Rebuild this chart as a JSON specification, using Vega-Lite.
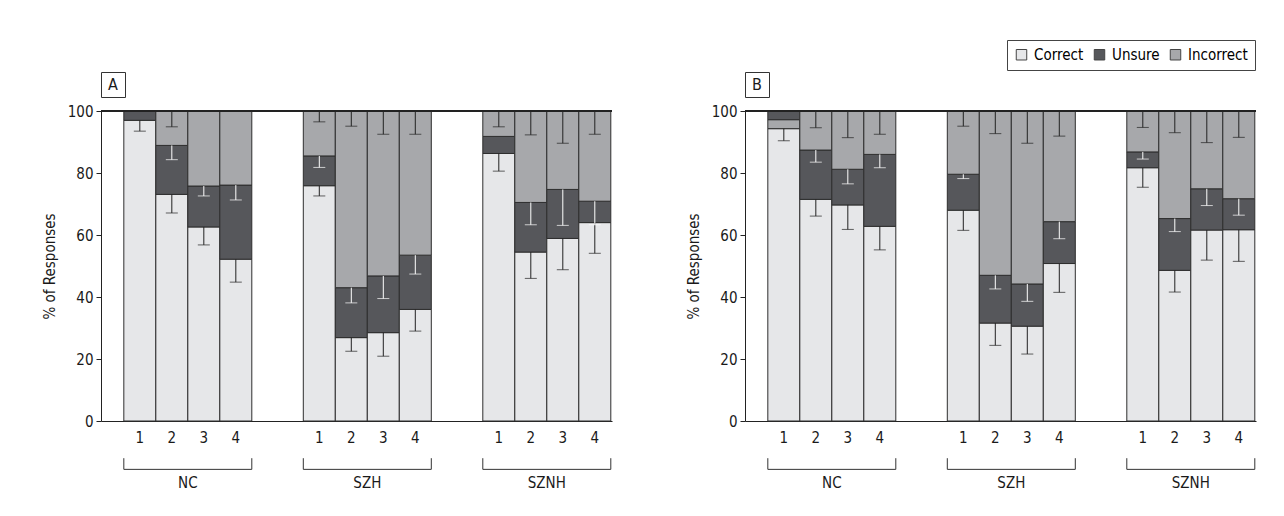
{
"$schema": "https://vega.github.io/schema/vega-lite/v6.json",
"autosize": "pad",
"padding": {"left": 42, "top": 39, "right": 0, "bottom": 0},
"background": "white",
"config": {
  "font": "DejaVu Sans Condensed, Liberation Sans, sans-serif",
  "view": {"stroke": null},
  "axis": {"labelFont": "DejaVu Sans Condensed, Liberation Sans, sans-serif", "titleFont": "DejaVu Sans Condensed, Liberation Sans, sans-serif", "labelColor": "#1a1a1a", "titleColor": "#1a1a1a", "domainColor": "#222", "tickColor": "#222"},
  "legend": {"labelFont": "DejaVu Sans Condensed, Liberation Sans, sans-serif"},
  "text": {"font": "DejaVu Sans Condensed, Liberation Sans, sans-serif", "color": "#1a1a1a"}
},
"datasets": {
  "resp": [
    {"panel":"A","group":"NC","sub":"1","cat":"Correct","k":1,"val":97.0,"lo":93.5},
    {"panel":"A","group":"NC","sub":"1","cat":"Unsure","k":2,"val":3.0,"lo":null},
    {"panel":"A","group":"NC","sub":"1","cat":"Incorrect","k":3,"val":0.0,"lo":null},
    {"panel":"A","group":"NC","sub":"2","cat":"Correct","k":1,"val":73.1,"lo":67.1},
    {"panel":"A","group":"NC","sub":"2","cat":"Unsure","k":2,"val":15.8,"lo":84.3},
    {"panel":"A","group":"NC","sub":"2","cat":"Incorrect","k":3,"val":11.1,"lo":94.9},
    {"panel":"A","group":"NC","sub":"3","cat":"Correct","k":1,"val":62.6,"lo":56.8},
    {"panel":"A","group":"NC","sub":"3","cat":"Unsure","k":2,"val":13.2,"lo":72.6},
    {"panel":"A","group":"NC","sub":"3","cat":"Incorrect","k":3,"val":24.2,"lo":null},
    {"panel":"A","group":"NC","sub":"4","cat":"Correct","k":1,"val":52.2,"lo":44.8},
    {"panel":"A","group":"NC","sub":"4","cat":"Unsure","k":2,"val":23.9,"lo":71.3},
    {"panel":"A","group":"NC","sub":"4","cat":"Incorrect","k":3,"val":23.9,"lo":null},
    {"panel":"A","group":"SZH","sub":"1","cat":"Correct","k":1,"val":75.9,"lo":72.6},
    {"panel":"A","group":"SZH","sub":"1","cat":"Unsure","k":2,"val":9.6,"lo":81.8},
    {"panel":"A","group":"SZH","sub":"1","cat":"Incorrect","k":3,"val":14.5,"lo":96.5},
    {"panel":"A","group":"SZH","sub":"2","cat":"Correct","k":1,"val":26.9,"lo":22.5},
    {"panel":"A","group":"SZH","sub":"2","cat":"Unsure","k":2,"val":16.1,"lo":38.1},
    {"panel":"A","group":"SZH","sub":"2","cat":"Incorrect","k":3,"val":57.0,"lo":95.1},
    {"panel":"A","group":"SZH","sub":"3","cat":"Correct","k":1,"val":28.5,"lo":20.9},
    {"panel":"A","group":"SZH","sub":"3","cat":"Unsure","k":2,"val":18.3,"lo":39.5},
    {"panel":"A","group":"SZH","sub":"3","cat":"Incorrect","k":3,"val":53.2,"lo":92.5},
    {"panel":"A","group":"SZH","sub":"4","cat":"Correct","k":1,"val":36.0,"lo":29.0},
    {"panel":"A","group":"SZH","sub":"4","cat":"Unsure","k":2,"val":17.5,"lo":47.4},
    {"panel":"A","group":"SZH","sub":"4","cat":"Incorrect","k":3,"val":46.5,"lo":92.5},
    {"panel":"A","group":"SZNH","sub":"1","cat":"Correct","k":1,"val":86.3,"lo":80.6},
    {"panel":"A","group":"SZNH","sub":"1","cat":"Unsure","k":2,"val":5.5,"lo":null},
    {"panel":"A","group":"SZNH","sub":"1","cat":"Incorrect","k":3,"val":8.2,"lo":94.9},
    {"panel":"A","group":"SZNH","sub":"2","cat":"Correct","k":1,"val":54.5,"lo":46.0},
    {"panel":"A","group":"SZNH","sub":"2","cat":"Unsure","k":2,"val":16.0,"lo":63.3},
    {"panel":"A","group":"SZNH","sub":"2","cat":"Incorrect","k":3,"val":29.5,"lo":92.3},
    {"panel":"A","group":"SZNH","sub":"3","cat":"Correct","k":1,"val":58.9,"lo":48.8},
    {"panel":"A","group":"SZNH","sub":"3","cat":"Unsure","k":2,"val":15.8,"lo":63.1},
    {"panel":"A","group":"SZNH","sub":"3","cat":"Incorrect","k":3,"val":25.3,"lo":89.6},
    {"panel":"A","group":"SZNH","sub":"4","cat":"Correct","k":1,"val":64.0,"lo":54.1},
    {"panel":"A","group":"SZNH","sub":"4","cat":"Unsure","k":2,"val":6.9,"lo":63.3},
    {"panel":"A","group":"SZNH","sub":"4","cat":"Incorrect","k":3,"val":29.1,"lo":92.5},
    {"panel":"B","group":"NC","sub":"1","cat":"Correct","k":1,"val":94.3,"lo":90.4},
    {"panel":"B","group":"NC","sub":"1","cat":"Incorrect","k":2,"val":2.9,"lo":null},
    {"panel":"B","group":"NC","sub":"1","cat":"Unsure","k":3,"val":2.8,"lo":null},
    {"panel":"B","group":"NC","sub":"2","cat":"Correct","k":1,"val":71.5,"lo":66.1},
    {"panel":"B","group":"NC","sub":"2","cat":"Unsure","k":2,"val":15.9,"lo":83.5},
    {"panel":"B","group":"NC","sub":"2","cat":"Incorrect","k":3,"val":12.6,"lo":94.6},
    {"panel":"B","group":"NC","sub":"3","cat":"Correct","k":1,"val":69.7,"lo":61.8},
    {"panel":"B","group":"NC","sub":"3","cat":"Unsure","k":2,"val":11.5,"lo":76.5},
    {"panel":"B","group":"NC","sub":"3","cat":"Incorrect","k":3,"val":18.8,"lo":91.4},
    {"panel":"B","group":"NC","sub":"4","cat":"Correct","k":1,"val":62.8,"lo":55.2},
    {"panel":"B","group":"NC","sub":"4","cat":"Unsure","k":2,"val":23.2,"lo":81.7},
    {"panel":"B","group":"NC","sub":"4","cat":"Incorrect","k":3,"val":14.0,"lo":92.5},
    {"panel":"B","group":"SZH","sub":"1","cat":"Correct","k":1,"val":68.0,"lo":61.5},
    {"panel":"B","group":"SZH","sub":"1","cat":"Unsure","k":2,"val":11.6,"lo":78.2},
    {"panel":"B","group":"SZH","sub":"1","cat":"Incorrect","k":3,"val":20.4,"lo":95.1},
    {"panel":"B","group":"SZH","sub":"2","cat":"Correct","k":1,"val":31.6,"lo":24.4},
    {"panel":"B","group":"SZH","sub":"2","cat":"Unsure","k":2,"val":15.4,"lo":42.6},
    {"panel":"B","group":"SZH","sub":"2","cat":"Incorrect","k":3,"val":53.0,"lo":92.7},
    {"panel":"B","group":"SZH","sub":"3","cat":"Correct","k":1,"val":30.6,"lo":21.6},
    {"panel":"B","group":"SZH","sub":"3","cat":"Unsure","k":2,"val":13.6,"lo":38.6},
    {"panel":"B","group":"SZH","sub":"3","cat":"Incorrect","k":3,"val":55.8,"lo":89.6},
    {"panel":"B","group":"SZH","sub":"4","cat":"Correct","k":1,"val":50.8,"lo":41.5},
    {"panel":"B","group":"SZH","sub":"4","cat":"Unsure","k":2,"val":13.5,"lo":58.8},
    {"panel":"B","group":"SZH","sub":"4","cat":"Incorrect","k":3,"val":35.7,"lo":91.9},
    {"panel":"B","group":"SZNH","sub":"1","cat":"Correct","k":1,"val":81.7,"lo":75.4},
    {"panel":"B","group":"SZNH","sub":"1","cat":"Unsure","k":2,"val":5.1,"lo":84.5},
    {"panel":"B","group":"SZNH","sub":"1","cat":"Incorrect","k":3,"val":13.2,"lo":94.7},
    {"panel":"B","group":"SZNH","sub":"2","cat":"Correct","k":1,"val":48.6,"lo":41.6},
    {"panel":"B","group":"SZNH","sub":"2","cat":"Unsure","k":2,"val":16.7,"lo":61.1},
    {"panel":"B","group":"SZNH","sub":"2","cat":"Incorrect","k":3,"val":34.7,"lo":93.0},
    {"panel":"B","group":"SZNH","sub":"3","cat":"Correct","k":1,"val":61.6,"lo":51.9},
    {"panel":"B","group":"SZNH","sub":"3","cat":"Unsure","k":2,"val":13.3,"lo":69.5},
    {"panel":"B","group":"SZNH","sub":"3","cat":"Incorrect","k":3,"val":25.1,"lo":89.8},
    {"panel":"B","group":"SZNH","sub":"4","cat":"Correct","k":1,"val":61.7,"lo":51.5},
    {"panel":"B","group":"SZNH","sub":"4","cat":"Unsure","k":2,"val":10.0,"lo":66.4},
    {"panel":"B","group":"SZNH","sub":"4","cat":"Incorrect","k":3,"val":28.3,"lo":91.5}
  ]
},
"spacing": 73,
"bounds": "full",
"hconcat": [
  {"vconcat": [
    {"width": 24, "height": 25, "view": {"stroke": "#333", "strokeWidth": 1},
     "data": {"values": [{"t": "A"}]},
     "mark": {"type": "text", "fontSize": 16},
     "encoding": {"text": {"field": "t", "type": "nominal"}}},
    {"width": 511, "height": 310,
     "data": {"name": "resp"},
     "transform": [{"filter": "datum.panel === 'A'"}, {"stack": "val", "groupby": ["group", "sub"], "sort": [{"field": "k", "order": "ascending"}], "as": ["v0", "v1"]}],
     "layer": [
      {"mark": {"type": "bar", "stroke": "#2e2e2e", "strokeWidth": 1},
       "encoding": {
        "x": {"field": "group", "type": "nominal", "sort": ["NC", "SZH", "SZNH"], "scale": {"paddingInner": 0.2869, "paddingOuter": 0.0669, "align": 0.95}, "axis": {"title": null, "ticks": false, "tickSize": 0, "labelPadding": 54, "labelAngle": 0, "labelFontSize": 15}},
        "xOffset": {"field": "sub", "type": "nominal", "scale": {"paddingInner": 0, "paddingOuter": 0}},
        "y": {"field": "v1", "type": "quantitative", "scale": {"domain": [0, 100], "nice": false}, "axis": {"title": "% of Responses", "values": [0, 20, 40, 60, 80, 100], "grid": false, "tickSize": 5, "labelPadding": 3, "titlePadding": 10, "labelFontSize": 15, "titleFontSize": 15, "titleFontWeight": "normal"}},
        "y2": {"field": "v0"},
        "color": {"field": "cat", "type": "nominal", "scale": {"domain": ["Correct", "Unsure", "Incorrect"], "range": ["#e6e7e9", "#56575b", "#a7a8ab"]},
          "legend": {"orient": "none", "legendX": 906, "legendY": -32, "direction": "horizontal", "title": null, "symbolType": "square", "symbolSize": 110, "symbolStrokeColor": "#444", "symbolStrokeWidth": 1, "symbolOpacity": 1, "labelFontSize": 15, "strokeColor": "#444", "padding": 7, "columnPadding": 8, "labelOffset": 5}}
       }},
      {"mark": {"type": "rule", "strokeWidth": 1},
       "transform": [{"filter": "isValid(datum.lo)"}],
       "encoding": {
        "x": {"field": "group", "type": "nominal", "sort": ["NC", "SZH", "SZNH"]},
        "xOffset": {"field": "sub", "type": "nominal"},
        "y": {"field": "v1", "type": "quantitative"},
        "y2": {"field": "lo"},
        "color": {"condition": {"test": "datum.cat === 'Unsure'", "value": "#ffffff"}, "value": "#222222"}
       }},
      {"mark": {"type": "tick", "thickness": 1, "size": 12},
       "transform": [{"filter": "isValid(datum.lo)"}],
       "encoding": {
        "x": {"field": "group", "type": "nominal", "sort": ["NC", "SZH", "SZNH"]},
        "xOffset": {"field": "sub", "type": "nominal"},
        "y": {"field": "lo", "type": "quantitative"},
        "color": {"condition": {"test": "datum.cat === 'Unsure'", "value": "#ffffff"}, "value": "#222222"}
       }},
      {"mark": {"type": "rule", "color": "#222", "strokeWidth": 1},
       "encoding": {"y": {"datum": 100}}},
      {"mark": {"type": "text", "fontSize": 15, "baseline": "middle"},
       "transform": [{"filter": "datum.cat === 'Correct'"}],
       "encoding": {
        "x": {"field": "group", "type": "nominal", "sort": ["NC", "SZH", "SZNH"]},
        "xOffset": {"field": "sub", "type": "nominal"},
        "y": {"datum": -5.4},
        "text": {"field": "sub"}
       }},
      {"mark": {"type": "rule", "color": "#333", "strokeWidth": 1},
       "transform": [{"filter": "datum.cat === 'Correct' && datum.sub === '1'"}],
       "encoding": {
        "x": {"field": "group", "type": "nominal", "sort": ["NC", "SZH", "SZNH"], "bandPosition": 0},
        "y": {"datum": -12},
        "y2": {"datum": -15.6}
       }},
      {"mark": {"type": "rule", "color": "#333", "strokeWidth": 1},
       "transform": [{"filter": "datum.cat === 'Correct' && datum.sub === '1'"}],
       "encoding": {
        "x": {"field": "group", "type": "nominal", "sort": ["NC", "SZH", "SZNH"], "bandPosition": 1},
        "y": {"datum": -12},
        "y2": {"datum": -15.6}
       }},
      {"mark": {"type": "rule", "color": "#333", "strokeWidth": 1},
       "transform": [{"filter": "datum.cat === 'Correct' && datum.sub === '1'"}],
       "encoding": {
        "x": {"field": "group", "type": "nominal", "sort": ["NC", "SZH", "SZNH"], "bandPosition": 0},
        "x2": {"field": "group", "bandPosition": 1},
        "y": {"datum": -15.6}
       }}
     ]}
  ], "spacing": 14, "bounds": "flush"},
  {"vconcat": [
    {"width": 24, "height": 25, "view": {"stroke": "#333", "strokeWidth": 1},
     "data": {"values": [{"t": "B"}]},
     "mark": {"type": "text", "fontSize": 16},
     "encoding": {"text": {"field": "t", "type": "nominal"}}},
    {"width": 511, "height": 310,
     "data": {"name": "resp"},
     "transform": [{"filter": "datum.panel === 'B'"}, {"stack": "val", "groupby": ["group", "sub"], "sort": [{"field": "k", "order": "ascending"}], "as": ["v0", "v1"]}],
     "layer": [
      {"mark": {"type": "bar", "stroke": "#2e2e2e", "strokeWidth": 1},
       "encoding": {
        "x": {"field": "group", "type": "nominal", "sort": ["NC", "SZH", "SZNH"], "scale": {"paddingInner": 0.2869, "paddingOuter": 0.0669, "align": 0.95}, "axis": {"title": null, "ticks": false, "tickSize": 0, "labelPadding": 54, "labelAngle": 0, "labelFontSize": 15}},
        "xOffset": {"field": "sub", "type": "nominal", "scale": {"paddingInner": 0, "paddingOuter": 0}},
        "y": {"field": "v1", "type": "quantitative", "scale": {"domain": [0, 100], "nice": false}, "axis": {"title": "% of Responses", "values": [0, 20, 40, 60, 80, 100], "grid": false, "tickSize": 5, "labelPadding": 3, "titlePadding": 10, "labelFontSize": 15, "titleFontSize": 15, "titleFontWeight": "normal"}},
        "y2": {"field": "v0"},
        "color": {"field": "cat", "type": "nominal", "scale": {"domain": ["Correct", "Unsure", "Incorrect"], "range": ["#e6e7e9", "#56575b", "#a7a8ab"]},
          "legend": {"orient": "none", "legendX": 906, "legendY": -32, "direction": "horizontal", "title": null, "symbolType": "square", "symbolSize": 110, "symbolStrokeColor": "#444", "symbolStrokeWidth": 1, "symbolOpacity": 1, "labelFontSize": 15, "strokeColor": "#444", "padding": 7, "columnPadding": 8, "labelOffset": 5}}
       }},
      {"mark": {"type": "rule", "strokeWidth": 1},
       "transform": [{"filter": "isValid(datum.lo)"}],
       "encoding": {
        "x": {"field": "group", "type": "nominal", "sort": ["NC", "SZH", "SZNH"]},
        "xOffset": {"field": "sub", "type": "nominal"},
        "y": {"field": "v1", "type": "quantitative"},
        "y2": {"field": "lo"},
        "color": {"condition": {"test": "datum.cat === 'Unsure'", "value": "#ffffff"}, "value": "#222222"}
       }},
      {"mark": {"type": "tick", "thickness": 1, "size": 12},
       "transform": [{"filter": "isValid(datum.lo)"}],
       "encoding": {
        "x": {"field": "group", "type": "nominal", "sort": ["NC", "SZH", "SZNH"]},
        "xOffset": {"field": "sub", "type": "nominal"},
        "y": {"field": "lo", "type": "quantitative"},
        "color": {"condition": {"test": "datum.cat === 'Unsure'", "value": "#ffffff"}, "value": "#222222"}
       }},
      {"mark": {"type": "rule", "color": "#222", "strokeWidth": 1},
       "encoding": {"y": {"datum": 100}}},
      {"mark": {"type": "text", "fontSize": 15, "baseline": "middle"},
       "transform": [{"filter": "datum.cat === 'Correct'"}],
       "encoding": {
        "x": {"field": "group", "type": "nominal", "sort": ["NC", "SZH", "SZNH"]},
        "xOffset": {"field": "sub", "type": "nominal"},
        "y": {"datum": -5.4},
        "text": {"field": "sub"}
       }},
      {"mark": {"type": "rule", "color": "#333", "strokeWidth": 1},
       "transform": [{"filter": "datum.cat === 'Correct' && datum.sub === '1'"}],
       "encoding": {
        "x": {"field": "group", "type": "nominal", "sort": ["NC", "SZH", "SZNH"], "bandPosition": 0},
        "y": {"datum": -12},
        "y2": {"datum": -15.6}
       }},
      {"mark": {"type": "rule", "color": "#333", "strokeWidth": 1},
       "transform": [{"filter": "datum.cat === 'Correct' && datum.sub === '1'"}],
       "encoding": {
        "x": {"field": "group", "type": "nominal", "sort": ["NC", "SZH", "SZNH"], "bandPosition": 1},
        "y": {"datum": -12},
        "y2": {"datum": -15.6}
       }},
      {"mark": {"type": "rule", "color": "#333", "strokeWidth": 1},
       "transform": [{"filter": "datum.cat === 'Correct' && datum.sub === '1'"}],
       "encoding": {
        "x": {"field": "group", "type": "nominal", "sort": ["NC", "SZH", "SZNH"], "bandPosition": 0},
        "x2": {"field": "group", "bandPosition": 1},
        "y": {"datum": -15.6}
       }}
     ]}
  ], "spacing": 14, "bounds": "flush"}
]
}
